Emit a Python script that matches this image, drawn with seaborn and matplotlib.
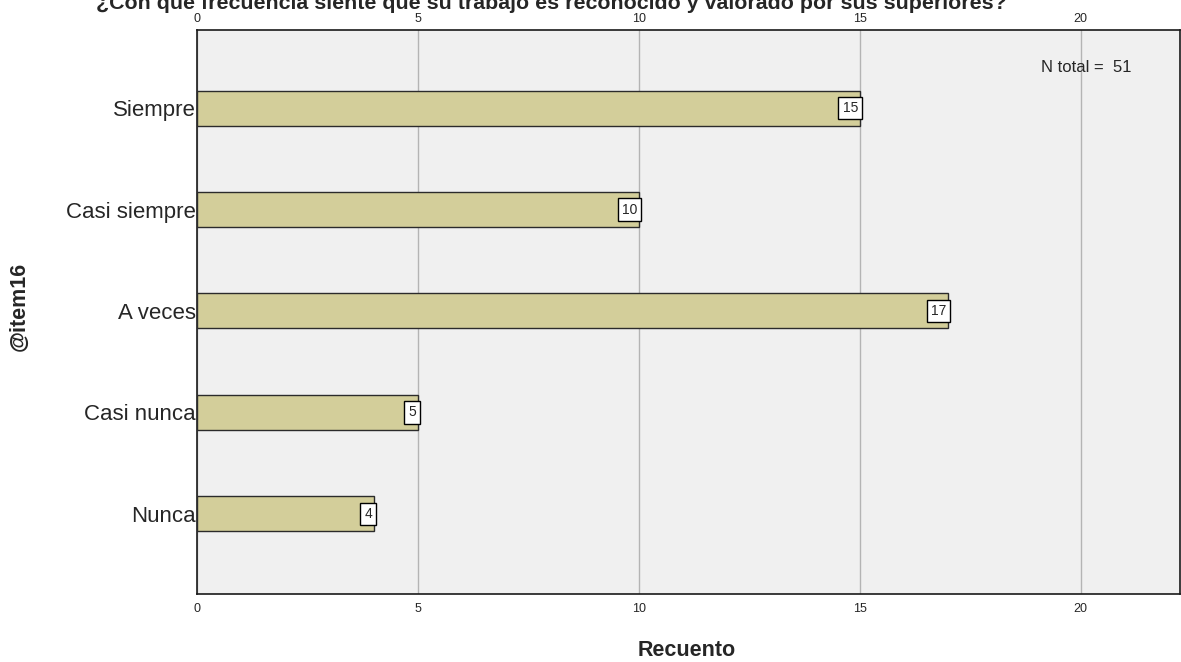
import matplotlib
matplotlib.use("Agg")
import matplotlib.pyplot as plt
import seaborn as sns
import pandas as pd

categories = ["Siempre", "Casi siempre", "A veces", "Casi nunca", "Nunca"]
counts = [15, 10, 17, 5, 4]
x_ticks = [0, 5, 10, 15, 20]
title = "¿Con qué frecuencia siente que su trabajo es reconocido y valorado por sus superiores?"
n_total = sum(counts)

sns.set_style("white")
plt.rcParams["font.family"] = ["Liberation Sans", "DejaVu Sans"]

df = pd.DataFrame({"cat": categories, "n": counts})

fig = plt.figure(figsize=(11.81, 6.62), dpi=100)
ax = fig.add_axes([0.1668, 0.1027, 0.8324, 0.852])
ax.set_facecolor("#F0F0F0")

sns.barplot(data=df, y="cat", x="n", orient="h", order=categories,
            color="#D3CE9A", saturation=1, width=0.345,
            edgecolor="#2b2b2b", linewidth=1.0, ax=ax, zorder=3)

ax.set_xlim(0, 22.25)
ax.set_ylim(4.79, -0.77)
ax.set_xticks(x_ticks)
ax.xaxis.grid(True, color="#B4B4B4", linewidth=1.0, zorder=1)
ax.set_axisbelow(True)
ax.tick_params(axis="x", length=0, labelsize=9, pad=6.5)
ax.tick_params(axis="y", length=0, labelsize=16, pad=1)

# duplicate count scale along the top edge
top = ax.secondary_xaxis("top")
top.set_xticks(x_ticks)
top.tick_params(length=0, labelsize=9, pad=3.6)
top.spines["top"].set_visible(False)

for s in ax.spines.values():
    s.set_visible(True)
    s.set_color("#1a1a1a")
    s.set_linewidth(1.2)

ax.set_xlabel("Recuento", fontsize=15.5, fontweight="bold")
ax.set_ylabel("@item16", fontsize=15.5, fontweight="bold")
ax.xaxis.set_label_coords(0.4985, -0.081)
ax.yaxis.set_label_coords(-0.170, 0.51)

for i, v in enumerate(counts):
    ax.text(v - 0.04, i, str(v), ha="right", va="center", fontsize=10,
            zorder=5,
            bbox=dict(boxstyle="square,pad=0.3", facecolor="white",
                      edgecolor="black", linewidth=1.0))

ax.text(19.1, -0.4, f"N total =  {n_total}", ha="left", va="center", fontsize=12)

fig.text(0.4666, 1 - 9 / 662, title, ha="center", va="baseline",
         fontsize=15.4, fontweight="bold")

fig.savefig("out.png", dpi=100)
